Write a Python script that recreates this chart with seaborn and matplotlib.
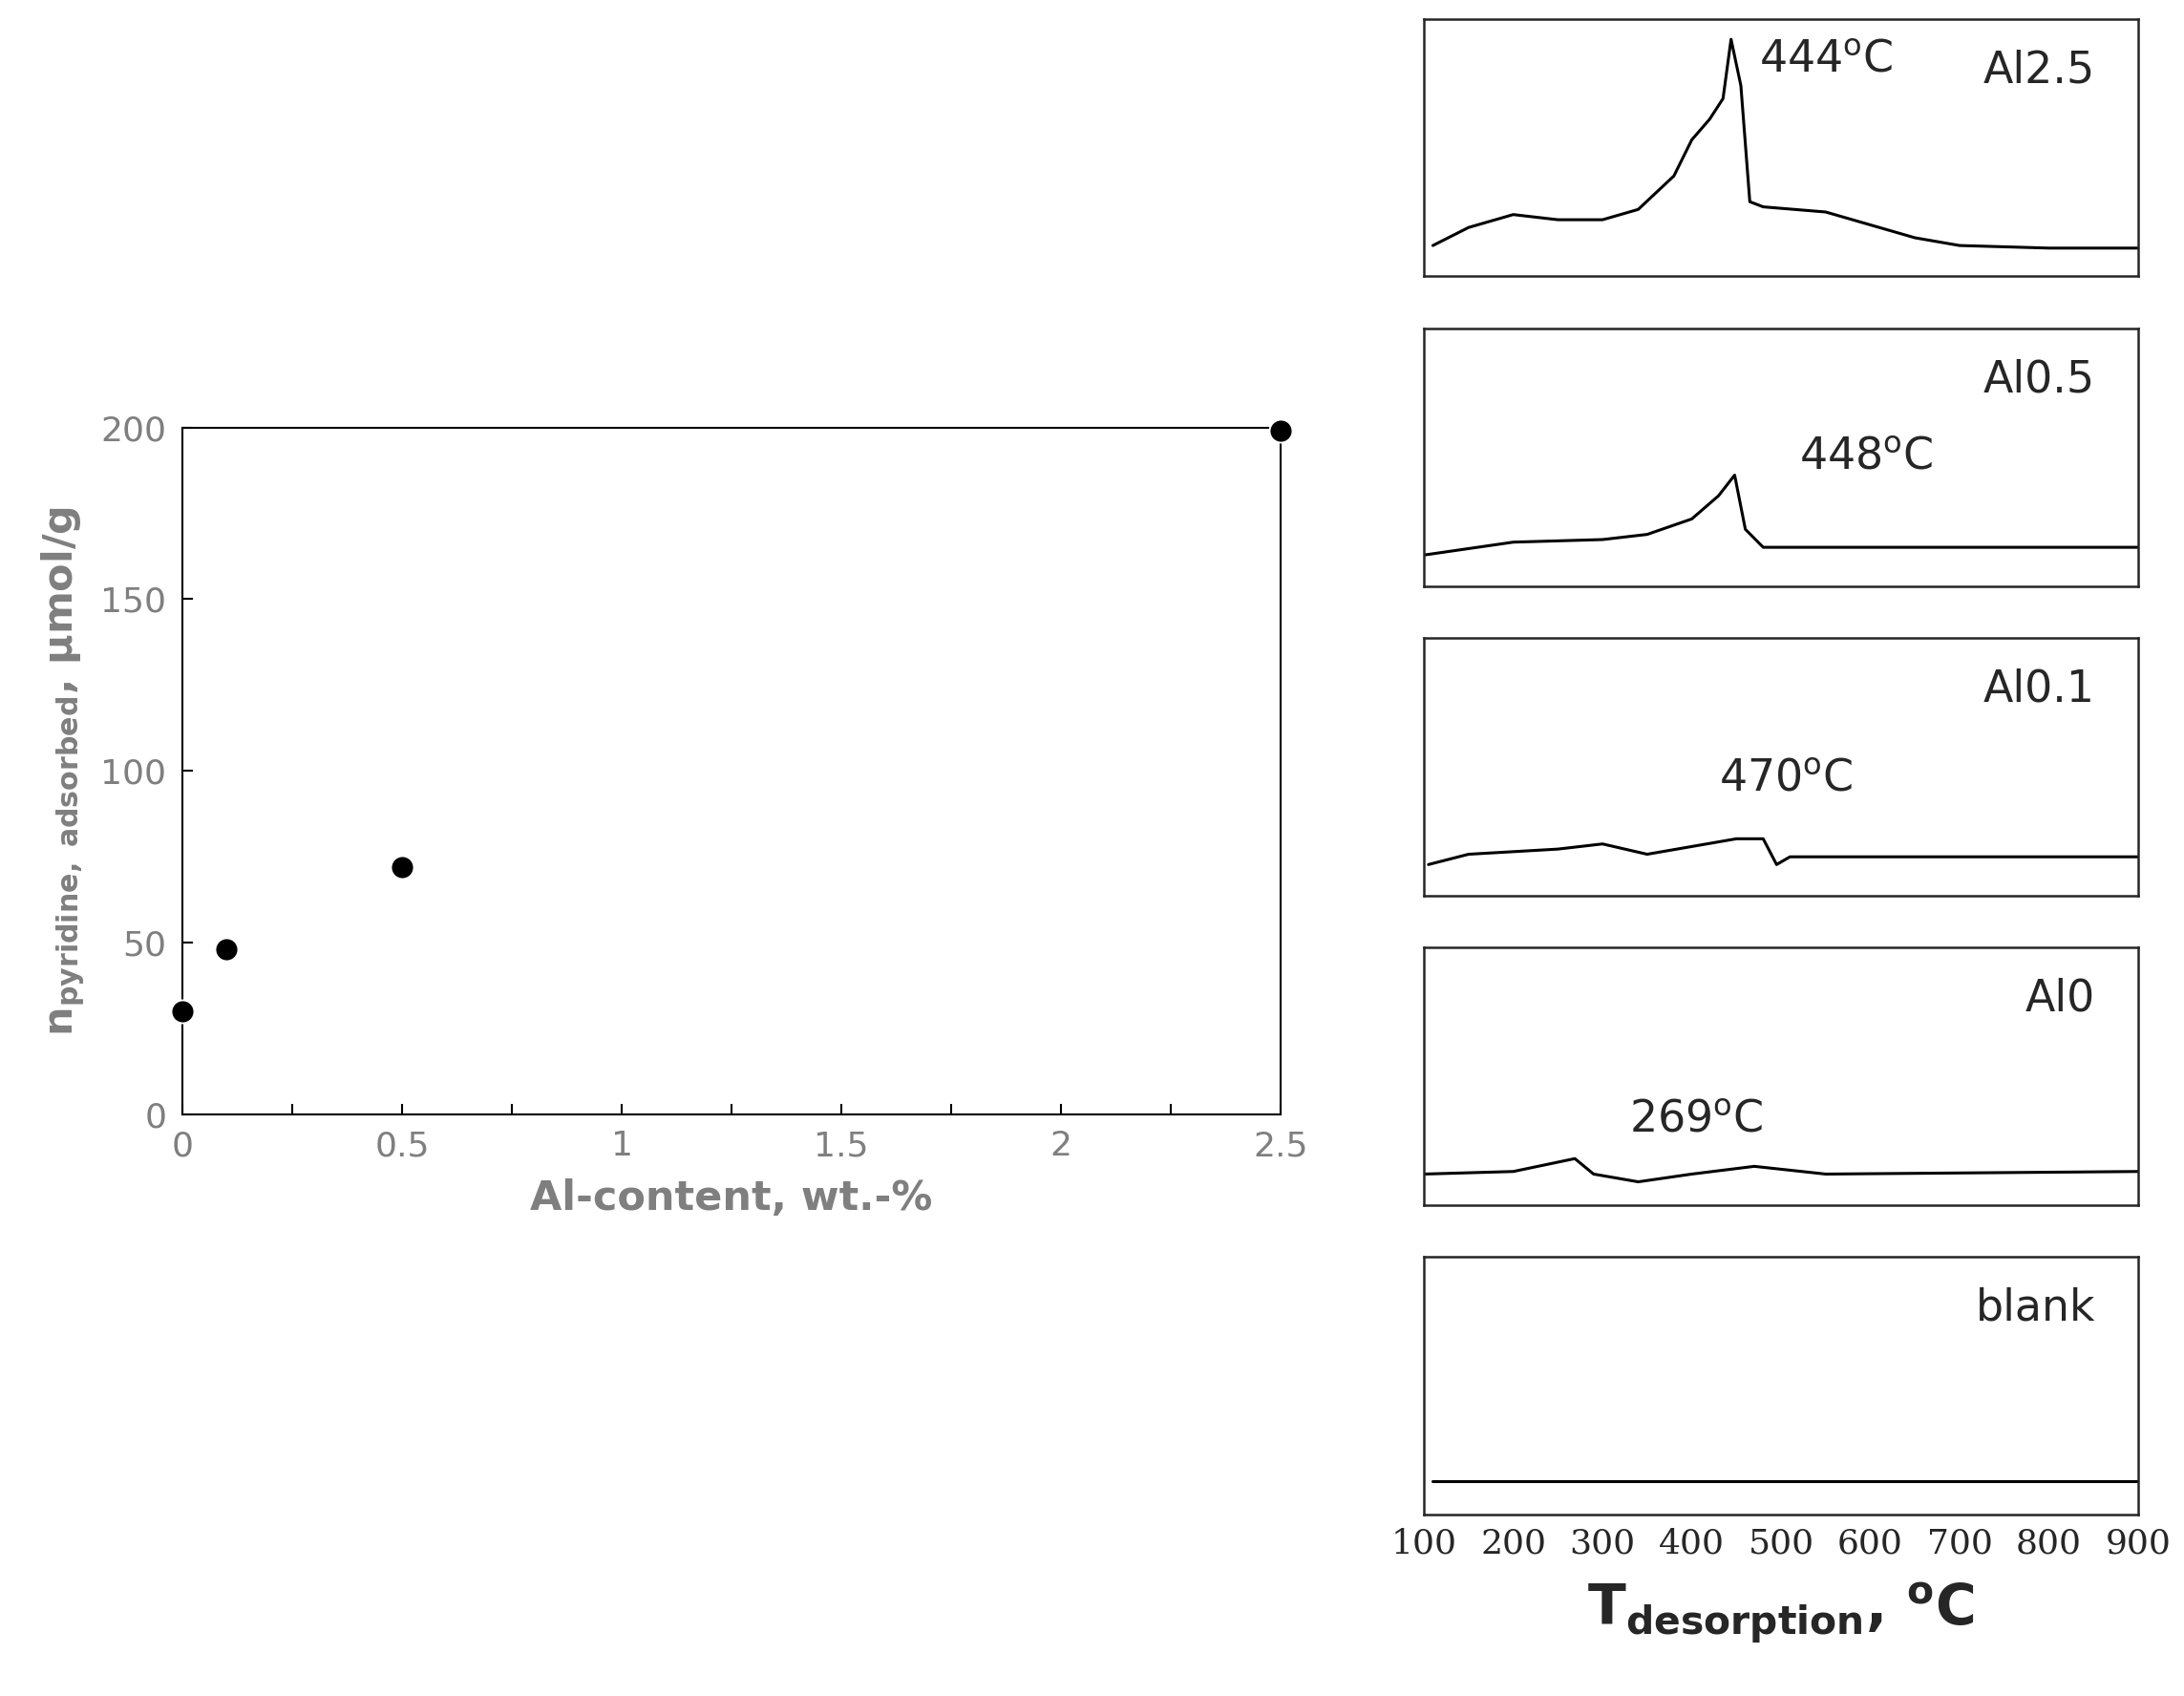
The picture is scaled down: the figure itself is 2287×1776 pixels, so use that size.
import numpy as np
import pandas as pd
import matplotlib
matplotlib.use("Agg")
import matplotlib.pyplot as plt
import seaborn as sns

# left panel data
al_content = [0, 0.1, 0.5, 2.5]
n_pyridine = [30, 48, 72, 199]

# TPD traces (temperature, relative signal 0..1 within each panel)
t_al25 = [110, 150, 200, 250, 300, 340, 380, 400, 420, 435, 444, 455, 465, 480, 550, 600, 650, 700, 800, 900]
s_al25 = [0.12, 0.19, 0.24, 0.22, 0.22, 0.26, 0.39, 0.53, 0.61, 0.69, 0.92, 0.74, 0.29, 0.27, 0.25, 0.20, 0.15, 0.12, 0.11, 0.11]
t_al05 = [100, 200, 300, 350, 400, 430, 448, 460, 480, 600, 900]
s_al05 = [0.12, 0.17, 0.18, 0.20, 0.26, 0.35, 0.43, 0.22, 0.15, 0.15, 0.15]
t_al01 = [105, 150, 250, 300, 350, 400, 450, 480, 495, 510, 600, 900]
s_al01 = [0.12, 0.16, 0.18, 0.20, 0.16, 0.19, 0.22, 0.22, 0.12, 0.15, 0.15, 0.15]
t_al0 = [100, 200, 269, 290, 340, 400, 470, 550, 900]
s_al0 = [0.12, 0.13, 0.18, 0.12, 0.09, 0.12, 0.15, 0.12, 0.13]
t_blank = [110, 500, 900]
s_blank = [0.13, 0.13, 0.13]

panel_names = ["Al2.5", "Al0.5", "Al0.1", "Al0", "blank"]
peak_temps = [444, 448, 470, 269, None]
peak_text_pos = [(475, 0.84), (520, 0.50), (430, 0.45), (330, 0.33), None]

sns.set_style("white")
gray = "#7f7f7f"
fig = plt.figure(figsize=(22.87, 17.76), dpi=100)

ax = fig.add_axes([0.0835, 0.343, 0.503, 0.405])
df = pd.DataFrame({"al": al_content, "n": n_pyridine})
sns.scatterplot(data=df, x="al", y="n", ax=ax, color="black", s=300, zorder=5, clip_on=False)
ax.set_xlim(0, 2.5)
ax.set_ylim(0, 200)
ax.set_xticks(np.arange(0, 2.51, 0.5))
ax.set_xticklabels(["0", "0.5", "1", "1.5", "2", "2.5"])
ax.set_xticks(np.arange(0, 2.51, 0.25), minor=True)
ax.set_yticks([0, 50, 100, 150, 200])
ax.tick_params(axis="both", which="both", direction="in", length=8, width=1.5, colors="black",
               labelcolor=gray, labelsize=26, pad=12, bottom=True, left=True)
for sp in ax.spines.values():
    sp.set_color("black")
    sp.set_linewidth(1.5)
ax.set_xlabel("Al-content, wt.-%", fontsize=31, fontweight="bold", color=gray, labelpad=12)
ax.set_ylabel(r"n$_{\mathbf{pyridine,\ adsorbed}}$, µmol/g", fontsize=31, fontweight="bold",
              color=gray, labelpad=10)

traces = [(t_al25, s_al25), (t_al05, s_al05), (t_al01, s_al01), (t_al0, s_al0), (t_blank, s_blank)]
for i, ((t, s), name, pk, pos) in enumerate(zip(traces, panel_names, peak_temps, peak_text_pos)):
    bottom = 0.837 - i * 0.1825
    pax = fig.add_axes([0.652, bottom, 0.327, 0.152])
    sns.lineplot(x=t, y=s, ax=pax, color="black", linewidth=2.2)
    pax.set_xlim(100, 900)
    pax.set_ylim(0, 1)
    pax.set_yticks([])
    for sp in pax.spines.values():
        sp.set_linewidth(1.8)
    pax.text(0.94, 0.80, name, transform=pax.transAxes, ha="right", va="center", fontsize=33)
    if pk is not None:
        pax.text(pos[0], pos[1], f"{pk}" + r"$^{\rm o}$C", fontsize=33, va="center")
    if i < 4:
        pax.set_xticks([])
    else:
        pax.set_xticks(range(100, 901, 100))
        pax.tick_params(axis="x", labelsize=26, length=0, pad=10)
        for lab in pax.get_xticklabels():
            lab.set_fontfamily("DejaVu Serif")
        pax.set_xlabel(r"T$_{\mathbf{desorption}}$, $^{\mathbf{o}}$C", fontsize=42,
                       fontweight="bold", labelpad=15)

fig.savefig("out.png", dpi=100)
